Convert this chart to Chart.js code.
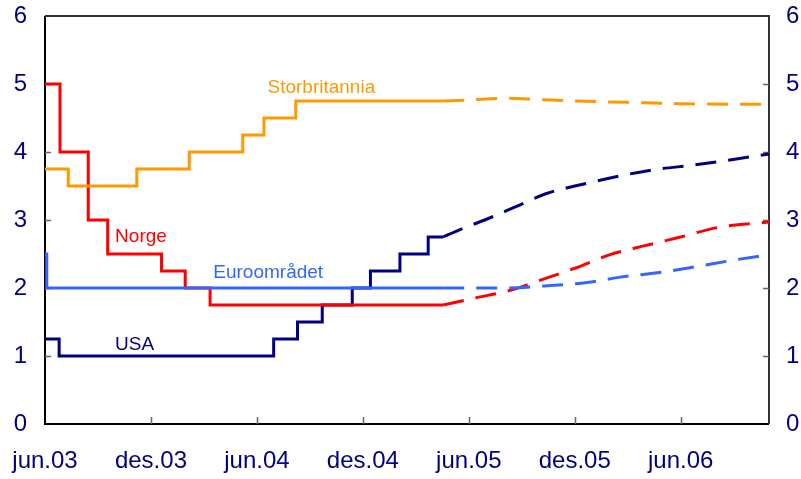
<!DOCTYPE html>
<html>
<head>
<meta charset="utf-8">
<script src="https://cdn.jsdelivr.net/npm/chart.js@4/dist/chart.umd.min.js"></script>
<style>
  html, body { margin: 0; padding: 0; background: #ffffff; }
  #wrap { width: 801px; height: 479px; }
</style>
</head>
<body>
<div id="wrap"><canvas id="c" width="801" height="479"></canvas></div>
<script>
// x values are months since June 2003
const xTickLabels = ['jun.03', 'des.03', 'jun.04', 'des.04', 'jun.05', 'des.05', 'jun.06'];
const yTickValues = [0, 1, 2, 3, 4, 5, 6];

// Actual policy rates (step changes)
const norgeMonths = [0, 0.85, 2.45, 3.55, 6.6, 7.94, 9.35, 22.55];
const norgeRates  = [5.0, 4.0, 3.0, 2.5, 2.25, 2.0, 1.75, 1.75];

const usaMonths = [0, 0.8, 12.95, 14.3, 15.7, 17.4, 18.43, 20.1, 21.7, 22.55];
const usaRates  = [1.25, 1.0, 1.25, 1.5, 1.75, 2.0, 2.25, 2.5, 2.75, 2.75];

const euroMonths = [0, 0.1, 22.55];
const euroRates  = [2.5, 2.0, 2.0];

const ukMonths = [0, 1.32, 5.2, 8.17, 11.2, 12.4, 14.2, 22.55];
const ukRates  = [3.75, 3.5, 3.75, 4.0, 4.25, 4.5, 4.75, 4.75];

// Forward rates (dashed)
const norgeFwdMonths = [22.55, 24.3, 26.4, 28.1, 30, 32, 34.1, 36, 38.1, 41];
const norgeFwdRates  = [1.75, 1.85, 1.97, 2.12, 2.29, 2.49, 2.63, 2.75, 2.89, 2.97];

const usaFwdMonths = [22.55, 23.5, 24.9, 26.7, 28.4, 30.2, 32.4, 34.5, 36.8, 38.7, 41];
const usaFwdRates  = [2.75, 2.86, 3.0, 3.2, 3.39, 3.51, 3.64, 3.74, 3.81, 3.88, 3.97];

const euroFwdMonths = [22.55, 26, 28.3, 30.7, 32.6, 34.9, 36.8, 39, 41];
const euroFwdRates  = [2.0, 2.0, 2.03, 2.08, 2.16, 2.23, 2.31, 2.41, 2.49];

const ukFwdMonths = [22.55, 24, 26, 28, 30, 33, 36, 41];
const ukFwdRates  = [4.75, 4.765, 4.79, 4.77, 4.75, 4.73, 4.71, 4.70];

// Series labels placed in data coordinates
const seriesLabels = [
  { text: 'Storbritannia', month: 12.6, value: 4.94, color: '#FF9900' },
  { text: 'Norge',         month: 3.97, value: 2.75, color: '#FF0000' },
  { text: 'Euroområdet',   month: 9.53, value: 2.22, color: '#3366FF' },
  { text: 'USA',           month: 3.97, value: 1.16, color: '#000080' }
];

const COLORS = { uk: '#FF9900', norge: '#FF0000', euro: '#3366FF', usa: '#000080' };

function pts(xs, ys) { return xs.map((x, i) => ({ x: x, y: ys[i] })); }

function solid(data, color) {
  return { data: data, borderColor: color, borderWidth: 3, stepped: 'before', pointRadius: 0, fill: false };
}
function dashed(data, color) {
  return { data: data, borderColor: color, borderWidth: 3, borderDash: [21, 12],
           cubicInterpolationMode: 'monotone', pointRadius: 0, fill: false, borderCapStyle: 'butt' };
}

const FONT = '"Liberation Sans", Arial, sans-serif';

const framePlugin = {
  id: 'frame',
  beforeDatasetsDraw(chart) {
    const { ctx, chartArea: a, scales } = chart;
    ctx.save();
    ctx.lineWidth = 2;
    ctx.strokeStyle = '#000000';
    ctx.beginPath();
    ctx.moveTo(a.left, a.top); ctx.lineTo(a.left, a.bottom); ctx.lineTo(a.right, a.bottom);
    ctx.stroke();
    ctx.strokeStyle = '#333333';
    ctx.beginPath();
    ctx.moveTo(a.left, a.top); ctx.lineTo(a.right, a.top); ctx.lineTo(a.right, a.bottom);
    ctx.stroke();
    // inward tick marks
    ctx.lineWidth = 1.5;
    ctx.strokeStyle = '#666666';
    ctx.beginPath();
    yTickValues.forEach(v => {
      if (v === 0 || v === 6) return;
      const y = Math.round(scales.y.getPixelForValue(v)) + 0.5;
      ctx.moveTo(a.left, y); ctx.lineTo(a.left + 6, y);
      ctx.moveTo(a.right, y); ctx.lineTo(a.right - 6, y);
    });
    xTickLabels.forEach((l, i) => {
      if (i === 0) return;
      const x = Math.round(scales.x.getPixelForValue(i * 6)) + 0.5;
      ctx.moveTo(x, a.bottom); ctx.lineTo(x, a.bottom - 7);
    });
    ctx.stroke();
    ctx.restore();
  },
  afterDatasetsDraw(chart) {
    const { ctx, scales } = chart;
    ctx.save();
    ctx.font = '19px ' + FONT;
    ctx.textAlign = 'left';
    ctx.textBaseline = 'middle';
    seriesLabels.forEach(s => {
      ctx.fillStyle = s.color;
      ctx.fillText(s.text, scales.x.getPixelForValue(s.month), scales.y.getPixelForValue(s.value));
    });
    ctx.restore();
  }
};

function yTicks() {
  return { stepSize: 1, color: '#000080', font: { family: FONT, size: 24 }, padding: 0 };
}

new Chart(document.getElementById('c'), {
  type: 'line',
  data: {
    datasets: [
      solid(pts(ukMonths, ukRates), COLORS.uk),
      solid(pts(euroMonths, euroRates), COLORS.euro),
      solid(pts(norgeMonths, norgeRates), COLORS.norge),
      solid(pts(usaMonths, usaRates), COLORS.usa),
      dashed(pts(ukFwdMonths, ukFwdRates), COLORS.uk),
      dashed(pts(euroFwdMonths, euroFwdRates), COLORS.euro),
      dashed(pts(norgeFwdMonths, norgeFwdRates), COLORS.norge),
      dashed(pts(usaFwdMonths, usaFwdRates), COLORS.usa)
    ]
  },
  options: {
    responsive: false,
    animation: false,
    events: [],
    layout: { padding: { top: 16, left: 0, right: 0, bottom: 0 } },
    plugins: { legend: { display: false }, tooltip: { enabled: false } },
    scales: {
      x: {
        type: 'linear', min: 0, max: 41,
        grid: { display: false, drawTicks: true, tickLength: 23 },
        border: { display: false },
        afterFit(scale) { scale.height = 55; },
        ticks: {
          stepSize: 6, autoSkip: false, maxRotation: 0, minRotation: 0,
          color: '#000080', font: { family: FONT, size: 24 }, padding: 0,
          callback: (v) => (v % 6 === 0 && xTickLabels[v / 6] !== undefined) ? xTickLabels[v / 6] : ''
        }
      },
      y: {
        position: 'left', min: 0, max: 6,
        grid: { display: false, drawTicks: true, tickLength: 18 },
        border: { display: false },
        afterFit(scale) { scale.width = 45; },
        ticks: yTicks()
      },
      y2: {
        position: 'right', min: 0, max: 6,
        grid: { display: false, drawTicks: true, tickLength: 17 },
        border: { display: false },
        afterFit(scale) { scale.width = 32; },
        ticks: yTicks()
      }
    }
  },
  plugins: [framePlugin]
});
</script>
</body>
</html>
